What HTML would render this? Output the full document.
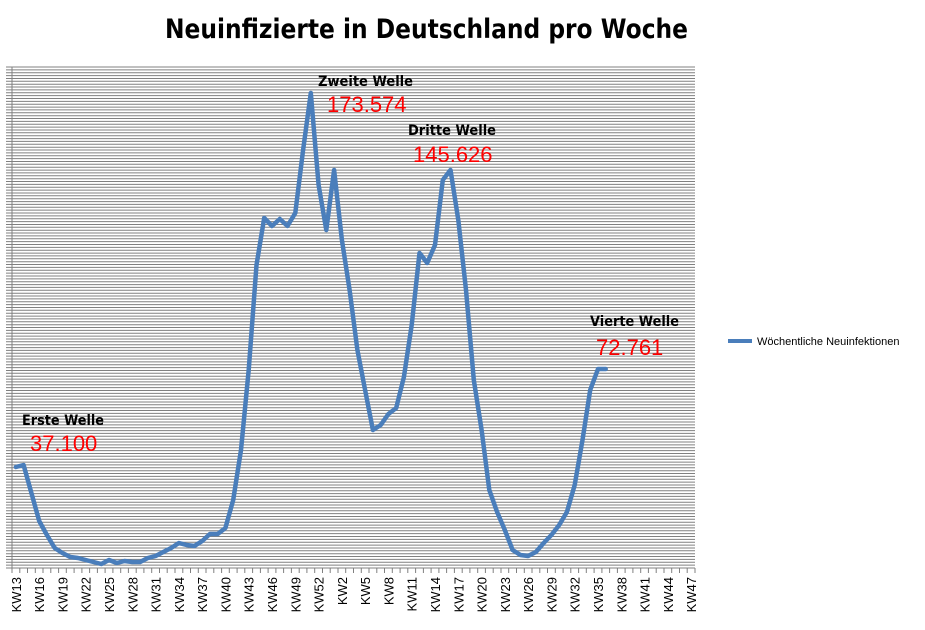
<!DOCTYPE html>
<html><head><meta charset="utf-8"><style>
html,body{margin:0;padding:0;background:#fff;width:925px;height:630px;overflow:hidden}
svg{display:block;font-family:"Liberation Sans",sans-serif}
</style></head><body>
<svg id="s" width="925" height="630" xmlns="http://www.w3.org/2000/svg">
<text x="165" y="38" textLength="523" lengthAdjust="spacingAndGlyphs" font-size="27" font-weight="bold" font-family="'DejaVu Sans','Liberation Sans',sans-serif">Neuinfizierte in Deutschland pro Woche</text>
<g id="grid" stroke="#808080" stroke-width="1"></g>
<g id="xl" font-size="13" fill="#000"></g>
<polyline id="ln" fill="none" stroke="#4a7ebb" stroke-width="4.5" stroke-linejoin="round" stroke-linecap="round"/>
<g font-weight="bold" font-size="14" font-family="'DejaVu Sans','Liberation Sans',sans-serif" lengthAdjust="spacingAndGlyphs">
<text x="22" y="425" textLength="82" lengthAdjust="spacingAndGlyphs">Erste Welle</text>
<text x="318" y="86" textLength="95" lengthAdjust="spacingAndGlyphs">Zweite Welle</text>
<text x="408" y="135" textLength="88" lengthAdjust="spacingAndGlyphs">Dritte Welle</text>
<text x="590" y="326" textLength="89" lengthAdjust="spacingAndGlyphs">Vierte Welle</text>
</g>
<g font-size="22" fill="#ff0000">
<text x="30" y="451">37.100</text>
<text x="327" y="112">173.574</text>
<text x="413" y="162">145.626</text>
<text x="596" y="355">72.761</text>
</g>
<line x1="728" y1="341" x2="752" y2="341" stroke="#4a7ebb" stroke-width="4"/>
<text x="757" y="345" font-size="11">Wöchentliche Neuinfektionen</text>
</svg>
<script>
var ns="http://www.w3.org/2000/svg",gg=document.getElementById('grid'),xl=document.getElementById('xl');
function L(p,a,b,c,d){var l=document.createElementNS(ns,'line');l.setAttribute('x1',a);l.setAttribute('y1',b);l.setAttribute('x2',c);l.setAttribute('y2',d);p.appendChild(l);}
var yTop=67,yBot=568,n=175,xa=12,xb=695;
for(var i=0;i<=n;i++){var y=(yBot-(yBot-yTop)*i/n).toFixed(1);L(gg,6,y,xb,y);}
L(gg,xa,yTop,xa,yBot+5);
var cw=(xb-xa)/88;
for(var i=0;i<=88;i++){var x=(xa+cw*i).toFixed(1);L(gg,x,yBot,x,yBot+5);}
var labs=[];for(var k=13;k<=53;k++)labs.push(k);for(var k=1;k<=47;k++)labs.push(k);
for(var i=0;i<88;i+=3){var cx=xa+cw*(i+0.5)+5,t=document.createElementNS(ns,'text');
t.setAttribute('x',cx);t.setAttribute('y',577);t.setAttribute('text-anchor','end');
t.setAttribute('transform','rotate(-90 '+cx+' 577)');t.textContent='KW'+labs[i];xl.appendChild(t);}
var ys=[467,465,493,521,535,548,553,557,558,560,562,564,560,563,561,562,562,558,556,552,548,543,545,546,541,534,534,528,500,450,370,265,218,226,219,226,213,150,93,185,230,170,240,290,350,390,430,425,414,408,377,325,253,263,245,180,170,220,290,380,430,490,512,530,550,555,556,552,543,535,525,512,485,440,390,369,369];
var pts=ys.map(function(y,i){return (xa+cw*(i+0.5)).toFixed(1)+','+y}).join(' ');
document.getElementById('ln').setAttribute('points',pts);
</script>
</body></html>
